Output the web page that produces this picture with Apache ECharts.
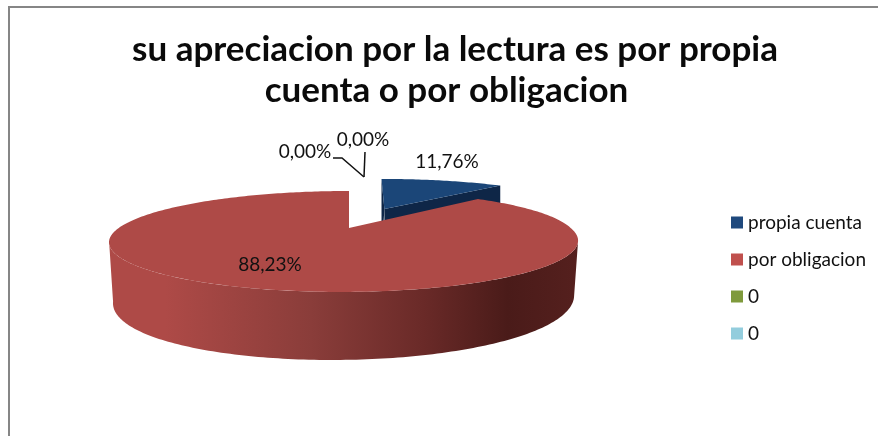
<!DOCTYPE html>
<html><head><meta charset="utf-8">
<style>html,body{margin:0;padding:0;background:#fff}#c{width:878px;height:436px}</style>
<script src="https://cdn.jsdelivr.net/npm/echarts@6/dist/echarts.min.js"></script>
</head><body><div id="c"></div>
<script>
const titleLines = ['su apreciacion por la lectura es por propia', 'cuenta o por obligacion'];
const categories = ['propia cuenta', 'por obligacion', '0', '0'];
const values = [11.76, 88.23, 0, 0];
const legendColors = ['#1F497D', '#C0504D', '#7F9A3C', '#93CDDD'];
const total = values.reduce((a, b) => a + b, 0);
const FONT = 'Lato';

// perspective projection of the pie plane: u to the right, v away from viewer
const C = 0.267;
function proj(u, v) {
  const d = 1 + C * v;
  const shift = -5.5 * (1 - v) / 1.276 + 6 * Math.max(u, 0) * Math.max(v, 0) * (v <= 1 ? 1 : 0);
  return [349 + 226 * u / d + shift, (228 + 14 * v) / d];
}
function apexPt(eu, ev) {
  const d = 1 + C * ev;
  return [349 + 226 * eu / d, (228 + 14 * ev) / d];
}
function down(p, u, v) {
  const depth = 58 - 13.8 * (v + 0.276) - 3 * u;
  return [344 + (p[0] - 344) * 0.983, p[1] + depth];
}
function rim(a0, a1, eu, ev, step) {
  const pts = [];
  const n = Math.max(2, Math.ceil(Math.abs(a1 - a0) / (step || 1)));
  for (let i = 0; i <= n; i++) {
    const a = (a0 + (a1 - a0) * i / n) * Math.PI / 180;
    const u = Math.sin(a), v = Math.cos(a);
    pts.push({ p: proj(u + eu, v + ev), u: u + eu, v: v + ev });
  }
  return pts;
}
function startAngle(i) {
  let s = 0;
  for (let k = 0; k < i; k++) s += values[k];
  return s / total * 360;
}
const pct = v => v.toFixed(2).replace('.', ',') + '%';
const txt = (s, x, y) => ({
  type: 'text', silent: true, z2: 50,
  style: { text: s, x, y, fill: '#111', font: '19px ' + FONT, textAlign: 'center', textVerticalAlign: 'middle' }
});
const poly = (points, fill, z2) => ({ type: 'polygon', silent: true, z2, shape: { points }, style: { fill, stroke: null } });

function renderBlue(params, api) {
  const val = api.value(0);
  const a0 = startAngle(0), a1 = a0 + val / total * 360;
  const mid = (a0 + a1) / 2 * Math.PI / 180;
  const e = 0.486, eu = e * Math.sin(mid), ev = e * Math.cos(mid);
  const nudge = q => [q[0] + 2 + (q[0] - 380) * 0.025, q[1]];
  const r = rim(a0, a1, eu, ev).map(o => ({ ...o, p: nudge(o.p) }));
  const apex = apexPt(eu, ev);
  const first = r[0], last = r[r.length - 1];
  const dn = (o) => [o.p[0], o.p[1] + 48];
  return { type: 'group', children: [
    poly([first.p, apex, [apex[0] - 3, apex[1] + 48], dn(first)], '#0E2647', 1),
    poly([apex, last.p, dn(last), [apex[0], apex[1] + 48]], '#0E2647', 2),
    poly([apex].concat(r.map(o => o.p)), '#1B4678', 3),
    txt(pct(val), 447, 162)
  ]};
}
function renderRed(params, api) {
  const val = api.value(0);
  const a0 = startAngle(1), a1 = a0 + val / total * 360;
  const top = rim(a0, Math.min(a1, 360), 0, 0);
  const apex = apexPt(0, 0);
  const front = rim(105, 255, 0, 0);
  const sidePts = front.map(o => o.p).concat(front.slice().reverse().map(o => down(o.p, o.u, o.v)));
  const grad = new echarts.graphic.LinearGradient(0, 0, 1, 0, [
    { offset: 0, color: '#AE4A47' }, { offset: 0.12, color: '#AE4A47' },
    { offset: 0.43, color: '#8A3D3A' }, { offset: 0.67, color: '#6A2A28' },
    { offset: 0.85, color: '#4A1B19' }, { offset: 1, color: '#55201E' }
  ]);
  return { type: 'group', children: [
    poly(sidePts, grad, 10),
    poly([apex].concat(top.map(o => o.p)), '#AE4A47', 11),
    txt(pct(val), 270, 265)
  ]};
}
function renderZero(i) {
  const anchors = [
    { label: [305, 152], pts: [[333, 158], [342, 158], [364, 177]] },
    { label: [363, 140], pts: [[365, 152], [364, 177]] }
  ];
  return function (params, api) {
    const a = anchors[i];
    return { type: 'group', children: [
      { type: 'polyline', silent: true, z2: 40, shape: { points: a.pts }, style: { stroke: '#111', lineWidth: 1.5, fill: null } },
      txt(pct(api.value(0)), a.label[0], a.label[1])
    ]};
  };
}
const renderers = [renderBlue, renderRed, renderZero(0), renderZero(1)];
// legend merges equal names, so the second "0" carries a trailing space
const seriesNames = categories.map((c, i) => categories.indexOf(c) === i ? c : c + ' ');

const chart = echarts.init(document.getElementById('c'), null, { renderer: 'canvas' });
chart.setOption({
  animation: false,
  backgroundColor: '#fff',
  title: {
    text: titleLines[0] + '\n' + titleLines[1] + '  ',
    left: 450, top: 24, textAlign: 'center',
    textStyle: { fontFamily: FONT, fontWeight: 'bold', fontSize: 35, lineHeight: 41, color: '#0a0a0a' }
  },
  legend: {
    orient: 'vertical', left: 726, top: 207, itemWidth: 12, itemHeight: 12, itemGap: 16,
    icon: 'rect', selectedMode: false,
    formatter: n => n.trim(),
    textStyle: { fontFamily: FONT, fontSize: 19, color: '#111', lineHeight: 21 },
    data: seriesNames
  },
  graphic: [{
    type: 'polyline', silent: true,
    shape: { points: [[9, 436], [9, 7], [878, 7]] },
    style: { stroke: '#868686', lineWidth: 2, fill: null }
  }],
  series: values.map((v, i) => ({
    type: 'custom', name: seriesNames[i], coordinateSystem: 'none',
    itemStyle: { color: legendColors[i] },
    renderItem: renderers[i], data: [[v]], z: i === 0 ? 1 : 2
  }))
});
</script></body></html>
